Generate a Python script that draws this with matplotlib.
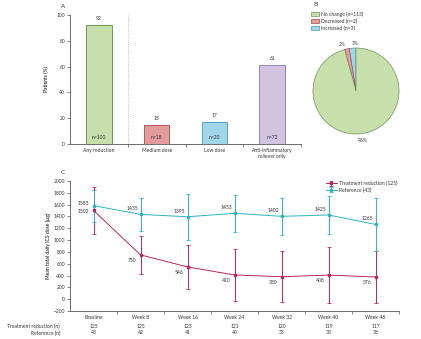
import matplotlib
matplotlib.use("Agg")
import matplotlib.pyplot as plt
from matplotlib.transforms import blended_transform_factory
from matplotlib.patches import Patch

plt.rcParams["font.family"] = ["Lato", "DejaVu Sans"]
plt.rcParams["font.size"] = 3.6
plt.rcParams["text.color"] = "#333333"
plt.rcParams["axes.edgecolor"] = "#555555"
plt.rcParams["xtick.color"] = "#555555"
plt.rcParams["ytick.color"] = "#555555"
plt.rcParams["xtick.labelcolor"] = "#333333"
plt.rcParams["ytick.labelcolor"] = "#333333"

# panel A data
cat_a = ["Any reduction", "Medium dose", "Low dose", "Anti-inflammatory\nreliever only"]
pct_a = [92, 15, 17, 61]
n_a = [100, 18, 20, 72]
face_a = ["#c6dfab", "#e29c9c", "#9fd6e9", "#d2c3e1"]
edge_a = ["#5e8a40", "#a84a4a", "#4596b8", "#8474a8"]

# panel B data
pie_labels = ["No change", "Decreased", "Increased"]
pie_n = [113, 2, 3]
pie_face = ["#c6dfab", "#e29c9c", "#9fd6e9"]
pie_edge = ["#6f8f55", "#a84a4a", "#4596b8"]

# panel C data
weeks = ["Baseline", "Week 8", "Week 16", "Week 24", "Week 32", "Week 40", "Week 48"]
treat_mean = [1502, 750, 546, 410, 380, 408, 376]
treat_err = [395, 317, 370, 445, 433, 470, 442]
ref_mean = [1583, 1435, 1395, 1453, 1402, 1425, 1265]
ref_err = [270, 280, 390, 318, 310, 317, 450]
treat_n = [125, 125, 123, 121, 120, 119, 117]
ref_n = [43, 42, 41, 40, 33, 38, 38]
red = "#b8285e"
cyan = "#2fb3c4"

fig = plt.figure(figsize=(4.21, 3.39), dpi=100)

# ---------- A ----------
ax = fig.add_axes([70 / 421, 1 - 144 / 339, 231 / 421, 129 / 339])
xs = list(range(len(cat_a)))
ax.bar(xs, pct_a, width=0.44, color=face_a, edgecolor=edge_a, linewidth=0.6)
for x, v, n in zip(xs, pct_a, n_a):
    ax.text(x, v + 3, str(v), ha="center", va="bottom")
    ax.text(x, 5, f"n={n}", ha="center", va="center")
ax.axvline(0.5, color="#aaaaaa", linestyle=":", linewidth=0.6)
ax.set_xlim(-0.5, 3.5)
ax.set_ylim(0, 100)
ax.set_yticks(range(0, 101, 20))
ax.set_xticks(xs)
ax.set_xticklabels(cat_a)
ax.set_xticks([0.5, 1.5, 2.5, 3.5], minor=True)
ax.tick_params(axis="x", which="major", length=0, pad=3)
ax.tick_params(axis="x", which="minor", length=2, width=0.5)
ax.tick_params(axis="y", length=2, width=0.5, pad=1.5)
ax.set_ylabel("Patients (%)", labelpad=5)
for s in ["top", "right"]:
    ax.spines[s].set_visible(False)
for s in ["left", "bottom"]:
    ax.spines[s].set_linewidth(0.6)
fig.text(63 / 421, 1 - 6 / 339, "A", fontsize=4.6, ha="center", va="center")

# ---------- B ----------
axp = fig.add_axes([(356 - 43) / 421, 1 - 134 / 339, 86 / 421, 86 / 339])
total = sum(pie_n)
order = [2, 1, 0]
wedges, texts = axp.pie(
    [pie_n[i] for i in order],
    colors=[pie_face[i] for i in order],
    labels=[f"{round(100 * pie_n[i] / total)}%" for i in order],
    labeldistance=1.1,
    startangle=90,
    counterclock=True,
    wedgeprops=dict(linewidth=0.5),
    textprops=dict(fontsize=3.6),
)
for w, i in zip(wedges, order):
    w.set_edgecolor(pie_edge[i])
# keep the two small labels side by side
texts[0].set_ha("left")
texts[1].set_ha("right")
texts[2].set_ha("center")
texts[2].set_va("top")
axp.set_xlim(-1, 1)
axp.set_ylim(-1, 1)
axp.set_aspect("equal")
handles = [Patch(facecolor=pie_face[i], edgecolor=pie_edge[i], linewidth=0.5) for i in range(3)]
fig.legend(
    handles,
    [f"{l} (n={n})" for l, n in zip(pie_labels, pie_n)],
    loc="upper left",
    bbox_to_anchor=(311 / 421, 1 - 11 / 339),
    frameon=False,
    fontsize=3.6,
    handlelength=1.6,
    handleheight=0.9,
    handletextpad=0.4,
    labelspacing=0.35,
    borderaxespad=0,
    borderpad=0,
)
fig.text(313 / 421, 1 - 5 / 339, "B", fontsize=4.6, ha="left", va="center")

# ---------- C ----------
axc = fig.add_axes([70 / 421, 1 - 311 / 339, 329 / 421, 130 / 339])
xc = list(range(len(weeks)))
axc.errorbar(xc, treat_mean, yerr=treat_err, color=red, marker="s", markersize=1.6,
             linewidth=0.7, elinewidth=0.7, capsize=1.3, capthick=0.6,
             label="Treatment reduction (125)")
axc.errorbar(xc, ref_mean, yerr=ref_err, color=cyan, marker="s", markersize=1.6,
             linewidth=0.7, elinewidth=0.7, capsize=1.3, capthick=0.6,
             label="Reference (43)")
for i in xc:
    if i == 0:
        axc.annotate(str(ref_mean[i]), (i, ref_mean[i]), xytext=(-3, 1.5),
                     textcoords="offset points", ha="right", va="center")
        axc.annotate(str(treat_mean[i]), (i, treat_mean[i]), xytext=(-3, -1),
                     textcoords="offset points", ha="right", va="center")
    else:
        axc.annotate(str(ref_mean[i]), (i, ref_mean[i]), xytext=(-6, 4),
                     textcoords="offset points", ha="center", va="center")
        axc.annotate(str(treat_mean[i]), (i, treat_mean[i]), xytext=(-6, -4),
                     textcoords="offset points", ha="center", va="center")
axc.set_xlim(-0.5, 6.5)
axc.set_ylim(-200, 2000)
axc.set_yticks(range(-200, 2001, 200))
axc.set_xticks(xc)
axc.set_xticklabels(weeks)
axc.set_xticks([x + 0.5 for x in xc], minor=True)
axc.tick_params(axis="x", which="major", length=0, pad=3)
axc.tick_params(axis="x", which="minor", length=2, width=0.5)
axc.tick_params(axis="y", length=2, width=0.5, pad=1.5)
axc.set_ylabel("Mean total daily ICS dose (µg)", labelpad=2)
for s in ["top", "right"]:
    axc.spines[s].set_visible(False)
for s in ["left", "bottom"]:
    axc.spines[s].set_linewidth(0.6)
axc.legend(loc="upper right", bbox_to_anchor=(1.0, 1.02), frameon=False,
           fontsize=3.6, handlelength=2.2, handletextpad=0.4, labelspacing=0.3,
           borderaxespad=0)
fig.text(63 / 421, 1 - 173 / 339, "C", fontsize=4.6, ha="center", va="center")

# numbers at risk table
tr = blended_transform_factory(axc.transData, fig.transFigure)
y1 = 1 - 326 / 339
y2 = 1 - 333 / 339
fig.text(60 / 421, y1, "Treatment reduction (n)", ha="right", va="center")
fig.text(60 / 421, y2, "Reference (n)", ha="right", va="center")
for i in xc:
    axc.text(i, y1, str(treat_n[i]), transform=tr, ha="center", va="center")
    axc.text(i, y2, str(ref_n[i]), transform=tr, ha="center", va="center")

fig.savefig("out.png", dpi=100)
